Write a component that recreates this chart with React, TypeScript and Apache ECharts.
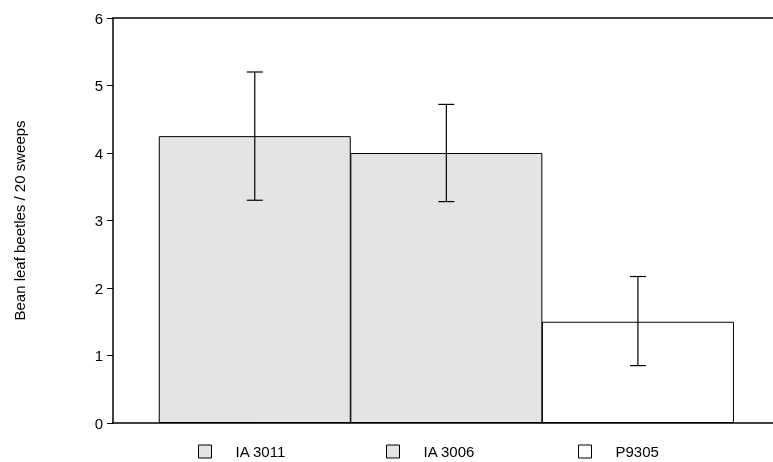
import { useEffect, useRef } from "react";
import * as echarts from "echarts";

const categories = ["IA 3011", "IA 3006", "P9305"];
const means = [4.25, 4.0, 1.5];
const errLow = [3.3, 3.28, 0.85];
const errHigh = [5.2, 4.72, 2.17];
const barColors = ["#e4e4e4", "#e4e4e4", "#ffffff"];
const yTicks = [0, 1, 2, 3, 4, 5, 6];

const App: React.FC = () => {
	const chartRef = useRef<HTMLDivElement>(null);

	useEffect(() => {
		if (!chartRef.current) return;
		const chart = echarts.init(chartRef.current, undefined, { renderer: "svg" });
		const font = { fontFamily: "Liberation Sans, Arial", fontSize: 14, color: "#000" };

		const barSeries = categories.map((name, i) => ({
			name,
			type: "bar",
			data: [[i, means[i]]],
			barWidth: 192,
			barGap: "-100%",
			itemStyle: { color: barColors[i], borderColor: "#000", borderWidth: 1 },
		}));

		const legendLefts = [193, 381, 573];

		chart.setOption({
			animation: false,
			grid: { left: 113, right: 0, top: 18, bottom: 39 },
			legend: categories.map((name, i) => ({
				data: [name],
				left: legendLefts[i],
				top: 439,
				icon: "rect",
				itemWidth: 13,
				itemHeight: 13,
				itemGap: 14,
				textStyle: { ...font, fontSize: 15, padding: [0, 0, 0, 19] },
				itemStyle: { borderColor: "#000", borderWidth: 1 },
			})),
			xAxis: [
				{
					type: "value",
					min: -0.74,
					max: 2.705,
					axisLine: { show: true, onZero: false, lineStyle: { color: "#000", width: 1.5 } },
					axisTick: { show: false },
					axisLabel: { show: false },
					splitLine: { show: false },
				},
				{
					type: "value",
					position: "top",
					min: -0.74,
					max: 2.705,
					axisLine: { show: true, onZero: false, lineStyle: { color: "#000", width: 1.5 } },
					axisTick: { show: false },
					axisLabel: { show: false },
					splitLine: { show: false },
				},
			],
			yAxis: {
				type: "value",
				min: yTicks[0],
				max: yTicks[yTicks.length - 1],
				interval: 1,
				name: "Bean leaf beetles / 20 sweeps",
				nameLocation: "middle",
				nameGap: 86,
				nameTextStyle: { ...font, fontSize: 15 },
				axisLine: { show: true, onZero: false, lineStyle: { color: "#000", width: 1.5 } },
				axisTick: { show: true, length: 6, lineStyle: { color: "#000" } },
				axisLabel: { ...font, fontSize: 15, margin: 10 },
				splitLine: { show: false },
			},
			series: [
				...barSeries,
				{
					type: "custom",
					data: categories.map((_, i) => [i, errLow[i], errHigh[i]]),
					renderItem: (_p: any, api: any) => {
						const lo = api.coord([api.value(0), api.value(1)]);
						const hi = api.coord([api.value(0), api.value(2)]);
						const w = 8;
						const style = { stroke: "#000", lineWidth: 1.2 };
						return {
							type: "group",
							children: [
								{ type: "line", shape: { x1: lo[0], y1: lo[1], x2: hi[0], y2: hi[1] }, style },
								{ type: "line", shape: { x1: lo[0] - w, y1: lo[1], x2: lo[0] + w, y2: lo[1] }, style },
								{ type: "line", shape: { x1: hi[0] - w, y1: hi[1], x2: hi[0] + w, y2: hi[1] }, style },
							],
						};
					},
					z: 10,
				},
			],
		});

		return () => chart.dispose();
	}, []);

	return <div ref={chartRef} style={{ position: "fixed", left: 0, top: 0, width: 773, height: 462 }} />;
};

export default App;
